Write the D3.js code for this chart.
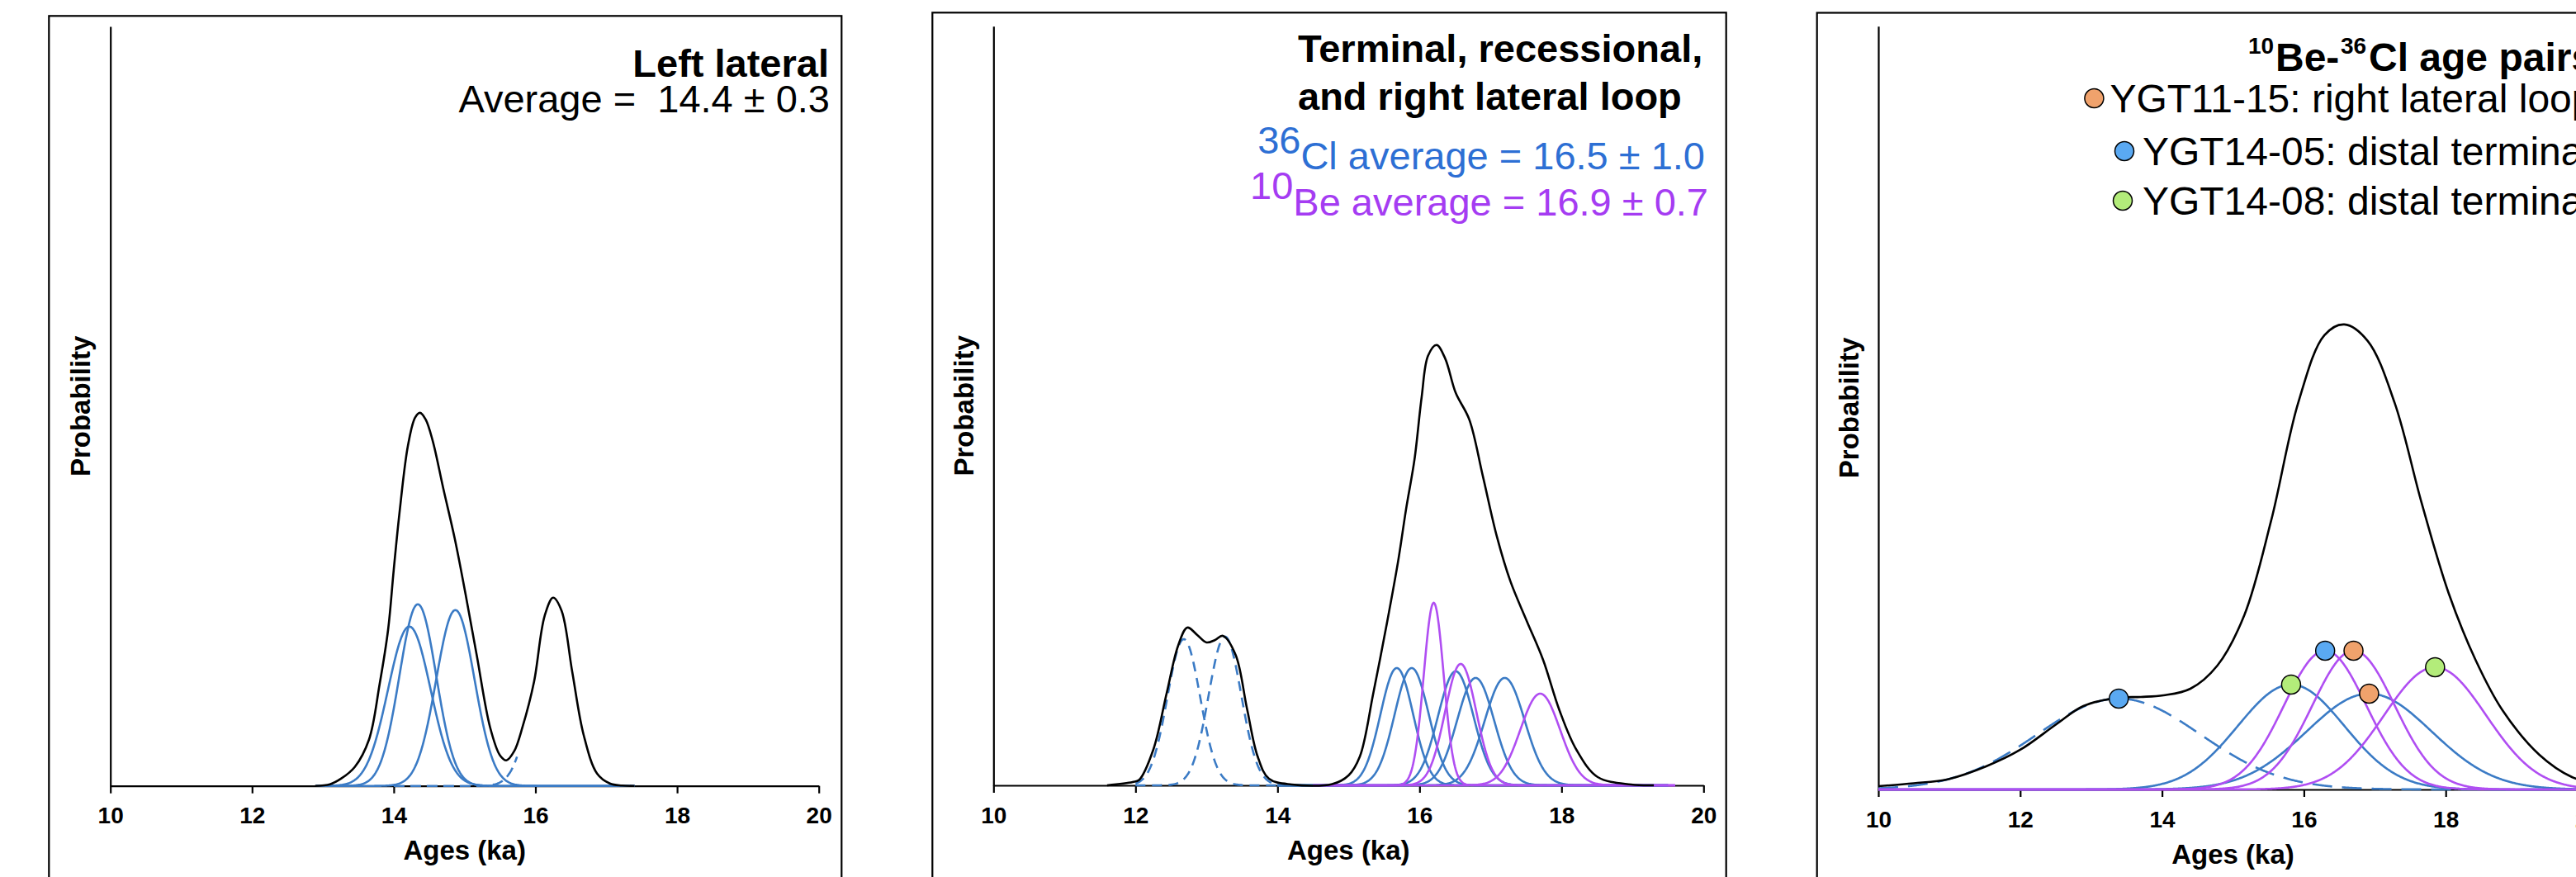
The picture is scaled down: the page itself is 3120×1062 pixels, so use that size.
<!DOCTYPE html>
<html>
<head>
<meta charset="utf-8">
<title>Age probability plots</title>
<script src="https://cdn.jsdelivr.net/npm/d3@7/dist/d3.min.js"></script>
<style>
  html, body { margin: 0; padding: 0; background: #fff; }
  svg text { font-family: "Liberation Sans", Arial, Helvetica, sans-serif; white-space: pre; }
</style>
</head>
<body>
<div id="container"></div>
<script>
"use strict";

const width = 3120;
const height = 1062;

// shared age axis
const ageDomain = [10, 20];
const ageTicks = [10, 12, 14, 16, 18, 20];
// top of each y axis in (arbitrary) probability units
const probMax = [920, 919, 924];

// ---- panel 1: left lateral (36Cl) ----
const leftClAges = [14.22, 14.34, 14.87];
const leftClErr  = [0.30, 0.26, 0.27];
const leftClPeak = [193, 220, 213];
const leftOutAges = [16.26];
const leftOutErr  = [0.27];
const leftOutPeak = [226];
const leftSumAges = [12.89, 13.10, 13.26, 13.45, 13.65, 13.80, 13.92, 14.00, 14.08, 14.20, 14.30, 14.37, 14.45, 14.55, 14.70, 14.86,
                     15.01, 15.17, 15.36, 15.50, 15.59, 15.70, 15.82, 15.98, 16.13, 16.25, 16.37, 16.52, 16.68, 16.87, 17.05, 17.22, 17.40];
const leftSumProb = [0, 2, 9, 23, 56, 123, 189, 262, 330, 412, 446, 452, 444, 418, 360, 300,
                     234, 159, 71, 37, 31, 42, 72, 126, 206, 228, 212, 138, 62, 15, 3, 0.5, 0];

// ---- panel 2: terminal, recessional and right lateral loop ----
const termClAges = [15.68, 15.89, 16.51, 16.79, 17.20];
const termClErr  = [0.23, 0.24, 0.25, 0.26, 0.28];
const termClPeak = [142, 142, 138, 130, 130];
const termBeAges = [16.20, 16.58, 17.70];
const termBeErr  = [0.14, 0.22, 0.28];
const termBePeak = [221, 147, 111];
const termOutAges = [12.68, 13.26];
const termOutErr  = [0.23, 0.23];
const termOutPeak = [177, 180];
const termSumAges = [11.60, 11.96, 12.05, 12.25, 12.44, 12.60, 12.73, 12.87, 13.00, 13.12, 13.23, 13.41, 13.57, 13.72, 13.88, 14.20, 14.77,
                     15.00, 15.16, 15.35, 15.54, 15.70, 15.81, 15.93, 16.03, 16.12, 16.24, 16.36, 16.51, 16.70, 16.89, 17.09, 17.28,
                     17.51, 17.74, 17.97, 18.21, 18.51, 18.98, 19.30];
const termSumProb = [0, 4, 6.5, 43, 112, 169, 191, 182, 173, 176, 181, 158, 93, 35, 8, 1, 1.5,
                     12, 35, 112, 196, 272, 334, 395, 470, 520, 533, 517, 475, 443, 375, 301, 247,
                     199, 152, 91, 43, 10, 1, 0];

// ---- panel 3: 10Be-36Cl age pairs ----
const pairNames  = ["YGT11-15: right lateral loop", "YGT14-05: distal terminal", "YGT14-08: distal terminal"];
const pairColors = ["#f0a26c", "#5aa9f2", "#b3ec7a"];
const pairBeAges = [16.70, 16.30, 17.85];
const pairBeErr  = [0.58, 0.58, 0.72];
const pairBePeak = [168, 168, 148];
const pairClAges = [16.92, 13.39, 15.82];
const pairClErr  = [0.88, 1.15, 0.75];
const pairClPeak = [116, 110, 127];
const pairClOutlier = [false, true, false];
const pairSumAges = [10.00, 10.50, 10.99, 11.52, 12.00, 12.51, 12.89, 13.38, 13.70, 14.02, 14.40, 14.78, 15.16,
                     15.54, 15.92, 16.29, 16.57, 16.90, 17.28, 17.66, 18.04, 18.42, 18.80, 19.32, 19.78, 20.00];
const pairSumProb = [4, 7.5, 12.6, 28, 48, 79, 101, 111, 112, 114, 122, 150, 211,
                     326, 468, 550, 563, 543, 468, 347, 238, 157, 96, 42, 15, 10];

// colours
const clBlue = "#3b7bc5";
const bePurple = "#b04ef2";
const clText = "#2d6fd4";
const beText = "#a53cf2";

// panel frames and plot areas (pixels)
const frames = [
    { fx: 59.3,   fy: 19.3, fw: 960,   x0: 133.7, x1: 991.7,  yTop: 32,   yBase: 951.7 },
    { fx: 1129.3, fy: 15.3, fw: 961.4, x0: 1203.3, x1: 2063.3, yTop: 31.7, yBase: 951 },
    { fx: 2200.7, fy: 15.5, fw: 960,   x0: 2275,  x1: 3134,   yTop: 31.8, yBase: 956 }
];

const svg = d3.select("#container").append("svg")
    .attr("width", width)
    .attr("height", height)
    .attr("viewBox", `0 0 ${width} ${height}`);

svg.append("rect").attr("width", width).attr("height", height).attr("fill", "#fff");

// sample a gaussian age curve between lo and hi
function gaussCurve(mu, sd, peak, lo, hi) {
    return d3.range(lo, hi + 1e-9, 0.01).map(a => [a, peak * Math.exp(-((a - mu) * (a - mu)) / (2 * sd * sd))]);
}

function buildPanel(i) {
    const f = frames[i];
    const g = svg.append("g");

    g.append("rect")
        .attr("x", f.fx).attr("y", f.fy)
        .attr("width", f.fw).attr("height", 1200)
        .attr("fill", "none").attr("stroke", "#000").attr("stroke-width", 2.2);

    const x = d3.scaleLinear().domain(ageDomain).range([f.x0, f.x1]);
    const y = d3.scaleLinear().domain([0, probMax[i]]).range([f.yBase, f.yTop]);

    const gx = g.append("g")
        .attr("transform", `translate(0,${f.yBase})`)
        .call(d3.axisBottom(x).tickValues(ageTicks).tickSize(9).tickSizeOuter(0).tickFormat(d3.format("d")));
    gx.select(".domain").attr("stroke-width", 2.2);
    gx.selectAll(".tick line").attr("stroke-width", 2.2);
    gx.selectAll(".tick text")
        .attr("y", 45.5).attr("dy", null)
        .attr("font-size", 28).attr("font-weight", "bold").attr("fill", "#000");

    const gy = g.append("g")
        .attr("transform", `translate(${f.x0},0)`)
        .call(d3.axisLeft(y).tickValues([]).tickSizeOuter(0));
    gy.select(".domain").attr("stroke-width", 2.2);

    g.append("text")
        .attr("transform", `translate(${f.x0 - 24.5},${(f.yTop + f.yBase) / 2}) rotate(-90)`)
        .attr("text-anchor", "middle")
        .attr("font-size", 33).attr("font-weight", "bold")
        .text("Probability");

    g.append("text")
        .attr("x", (f.x0 + f.x1) / 2).attr("y", f.yBase + 89.5)
        .attr("text-anchor", "middle")
        .attr("font-size", 33).attr("font-weight", "bold")
        .text("Ages (ka)");

    const line = d3.line().x(d => x(d[0])).y(d => y(d[1]));
    const smooth = d3.line().x(d => x(d[0])).y(d => y(d[1])).curve(d3.curveCatmullRom.alpha(0.5));

    function curve(points, color, dash, gen) {
        g.append("path")
            .attr("d", (gen || line)(points))
            .attr("fill", "none")
            .attr("stroke", color)
            .attr("stroke-width", 2.6)
            .attr("stroke-linejoin", "round")
            .attr("stroke-dasharray", dash || null);
    }

    return { g, x, y, curve, smooth };
}

// ---------- panel 1 ----------
{
    const p = buildPanel(0);
    // the outlier curve only shows until it runs under the summed curve
    leftOutAges.forEach((a, k) => p.curve(gaussCurve(a, leftOutErr[k], leftOutPeak[k], 14.0, 15.74), clBlue, "13,7"));
    leftClAges.forEach((a, k) => p.curve(gaussCurve(a, leftClErr[k], leftClPeak[k], 12.9, 17.4), clBlue));
    p.curve(leftSumAges.map((a, k) => [a, leftSumProb[k]]), "#000", null, p.smooth);

    svg.append("text")
        .attr("x", 1004).attr("y", 93).attr("text-anchor", "end")
        .attr("font-size", 47).attr("font-weight", "bold")
        .text("Left lateral");
    svg.append("text")
        .attr("x", 1005).attr("y", 135.5).attr("text-anchor", "end")
        .attr("font-size", 47)
        .text("Average =  14.4 \u00b1 0.3");
}

// ---------- panel 2 ----------
{
    const p = buildPanel(1);
    termOutAges.forEach((a, k) => p.curve(gaussCurve(a, termOutErr[k], termOutPeak[k], 12.0, 14.0), clBlue, "12,8"));
    termClAges.forEach((a, k) => p.curve(gaussCurve(a, termClErr[k], termClPeak[k], 14.0, 19.5), clBlue));
    termBeAges.forEach((a, k) => p.curve(gaussCurve(a, termBeErr[k], termBePeak[k], 14.5, 19.6), bePurple));
    p.curve(termSumAges.map((a, k) => [a, termSumProb[k]]), "#000", null, p.smooth);

    svg.append("text")
        .attr("x", 1572).attr("y", 74.5)
        .attr("font-size", 47).attr("font-weight", "bold")
        .text("Terminal, recessional,");
    svg.append("text")
        .attr("x", 1572).attr("y", 133.4)
        .attr("font-size", 47).attr("font-weight", "bold")
        .text("and right lateral loop");

    const cl = svg.append("text")
        .attr("x", 2065).attr("y", 204.5).attr("text-anchor", "end")
        .attr("font-size", 47).attr("fill", clText);
    cl.append("tspan").attr("dy", -18.5).text("36");
    cl.append("tspan").attr("dy", 18.5).text("Cl average = 16.5 \u00b1 1.0");

    const be = svg.append("text")
        .attr("x", 2069).attr("y", 260.7).attr("text-anchor", "end")
        .attr("font-size", 47).attr("fill", beText);
    be.append("tspan").attr("dy", -20).text("10");
    be.append("tspan").attr("dy", 20).text("Be average = 16.9 \u00b1 0.7");
}

// ---------- panel 3 ----------
{
    const p = buildPanel(2);
    pairClAges.forEach((a, k) => p.curve(gaussCurve(a, pairClErr[k], pairClPeak[k], 10, 20), clBlue, pairClOutlier[k] ? "24,12" : null));
    pairBeAges.forEach((a, k) => p.curve(gaussCurve(a, pairBeErr[k], pairBePeak[k], 10, 20), bePurple));
    p.curve(pairSumAges.map((a, k) => [a, pairSumProb[k]]), "#000", null, p.smooth);

    // one dot on each curve of a pair, at its mean age
    const dots = [];
    pairNames.forEach((n, k) => {
        dots.push({ age: pairBeAges[k], prob: pairBePeak[k], c: pairColors[k] });
        dots.push({ age: pairClAges[k], prob: pairClPeak[k], c: pairColors[k] });
    });
    p.g.selectAll("circle.pair")
        .data(dots)
        .enter()
        .append("circle")
        .attr("class", "pair")
        .attr("cx", d => p.x(d.age))
        .attr("cy", d => p.y(d.prob))
        .attr("r", 11.5)
        .attr("fill", d => d.c)
        .attr("stroke", "#000")
        .attr("stroke-width", 1.5);

    // title with superscript mass numbers
    const t = svg.append("text")
        .attr("y", 86)
        .attr("font-size", 48).attr("font-weight", "bold");
    t.append("tspan").attr("x", 2723).attr("font-size", 28).attr("dy", -21).text("10");
    t.append("tspan").attr("x", 2756).attr("dy", 21).text("Be-");
    t.append("tspan").attr("x", 2835).attr("font-size", 28).attr("dy", -21).text("36");
    t.append("tspan").attr("x", 2869).attr("dy", 21).text("Cl age pairs");

    // legend
    const legendDotX = [2536.4, 2573, 2571];
    const legendTextX = [2555.4, 2594.9, 2594.9];
    const legendY = [119, 183, 243];
    pairNames.forEach((n, k) => {
        svg.append("circle")
            .attr("cx", legendDotX[k]).attr("cy", legendY[k]).attr("r", 11.5)
            .attr("fill", pairColors[k]).attr("stroke", "#000").attr("stroke-width", 1.5);
        svg.append("text")
            .attr("x", legendTextX[k]).attr("y", legendY[k] + 16.5)
            .attr("font-size", 48)
            .text(n);
    });
}
</script>
</body>
</html>
